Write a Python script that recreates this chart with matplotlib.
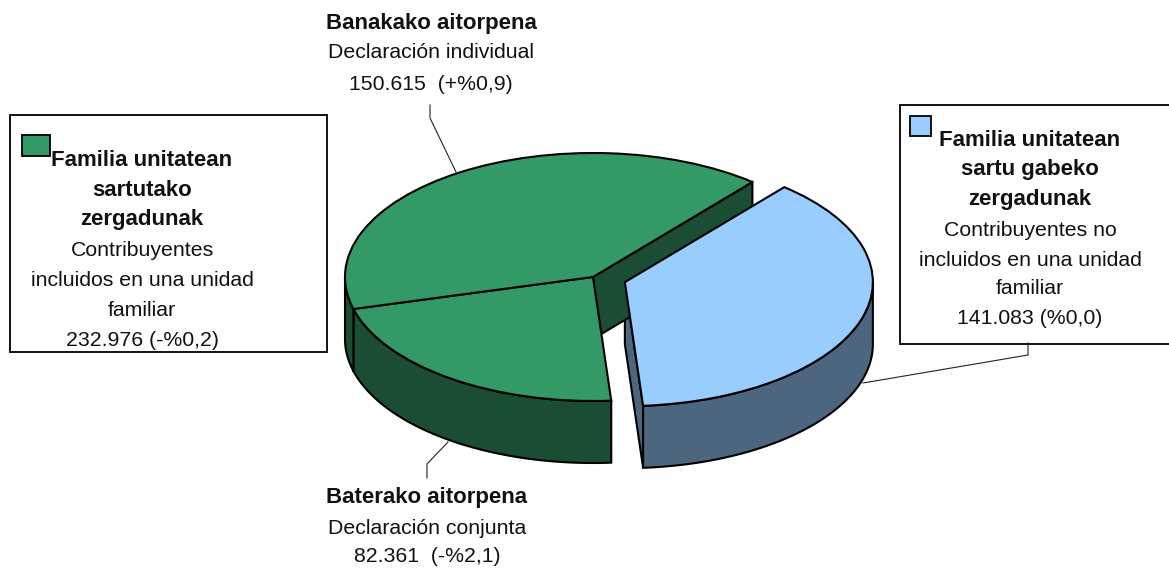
import numpy as np
import matplotlib.pyplot as plt
from matplotlib.patches import Polygon, Rectangle

plt.rcParams['font.family'] = ['Liberation Sans', 'DejaVu Sans']

# slices in drawing order, clockwise from the upper right
names = ["Familia unitatean sartu gabeko", "Baterako aitorpena", "Banakako aitorpena"]
values = [141083, 82361, 150615]
explode = [0.135, 0, 0]
top_colors = ["#99CCFF", "#339966", "#339966"]
side_colors = ["#4D6680", "#1A4D33", "#1A4D33"]

top_label = ["Banakako aitorpena", "Declaración individual", "150.615  (+%0,9)"]
bottom_label = ["Baterako aitorpena", "Declaración conjunta", "82.361  (-%2,1)"]
left_label = ["Familia unitatean", "sartutako", "zergadunak", "Contribuyentes",
              "incluidos en una unidad", "familiar", "232.976 (-%0,2)"]
right_label = ["Familia unitatean", "sartu gabeko", "zergadunak", "Contribuyentes no",
               "incluidos en una unidad", "familiar", "141.083 (%0,0)"]

W, H = 1169, 568
cx, cy, rx, ry = 593, 277, 248, 124
depth = 0.5

fig = plt.figure(figsize=(W / 100, H / 100), dpi=100)

# Pie axes: one data unit is rx across and ry up, which flattens the pie
ax = fig.add_axes([0, 0, 1, 1])
wedges, _ = ax.pie(values, explode=explode, colors=top_colors, startangle=50, counterclock=False,
                   radius=1, wedgeprops=dict(edgecolor='black', linewidth=1.5))
ax.set_aspect('auto')
ax.set_xlim(-cx / rx, (W - cx) / rx)
ax.set_ylim((cy - H) / ry, cy / ry)
ax.axis('off')


def add_side(points, color, z):
    ax.add_patch(Polygon(points, closed=True, facecolor=color, edgecolor='black',
                         linewidth=1.5, zorder=z))


# Radial cut faces first (only those turned towards the viewer), then the outer walls
for w, color in zip(wedges, side_colors):
    x0, y0 = w.center
    for t, normal in ((w.theta1, w.theta1 - 90), (w.theta2, w.theta2 + 90)):
        if np.sin(np.radians(normal)) >= 0:
            continue
        ex, ey = x0 + np.cos(np.radians(t)), y0 + np.sin(np.radians(t))
        add_side([(x0, y0), (ex, ey), (ex, ey - depth), (x0, y0 - depth)], color, 0.4)

for w, color in zip(wedges, side_colors):
    x0, y0 = w.center
    t = np.radians(np.linspace(w.theta1, w.theta2, 400))
    t = t[np.sin(t) <= 0]
    upper = np.column_stack([x0 + np.cos(t), y0 + np.sin(t)])
    lower = upper[::-1] - [0, depth]
    add_side(np.vstack([upper, lower]), color, 0.5)

for w in wedges:
    w.set_zorder(1)

# Overlay in image pixels for the boxes, leader lines and text
ov = fig.add_axes([0, 0, 1, 1], facecolor='none')
ov.set_xlim(0, W)
ov.set_ylim(H, 0)
ov.axis('off')

ov.plot([430, 430, 456], [105, 118, 172], color='#222222', lw=0.8)
ov.plot([427, 427, 448], [478, 464, 442], color='#222222', lw=0.8)
ov.plot([1028, 1028, 863], [343, 355, 383], color='#222222', lw=0.8)

ov.add_patch(Rectangle((10, 115), 316.5, 236.5, facecolor='white', edgecolor='black', lw=1.3))
ov.add_patch(Rectangle((900, 105), 280, 238.5, facecolor='white', edgecolor='black', lw=1.3))
ov.add_patch(Rectangle((22, 135), 28, 21, facecolor=top_colors[1], edgecolor='black', lw=1.3))
ov.add_patch(Rectangle((910, 116), 21, 20, facecolor=top_colors[0], edgecolor='black', lw=1.3))


def add_label(x, ys, lines, n_bold):
    for i, (y, s) in enumerate(zip(ys, lines)):
        bold = i < n_bold
        ov.text(x, y, s, ha='center', va='center', fontsize=16 if bold else 15.3,
                fontweight='bold' if bold else 'normal', color='#111111')


add_label(431, [23, 53, 84], top_label, 1)
add_label(427, [498, 528, 557], bottom_label, 1)
add_label(142, [160, 190, 220, 250, 280, 311, 341], left_label, 3)
add_label(1030, [140, 170, 200, 230, 260, 289, 319], right_label, 3)

plt.savefig("out.png", dpi=100)
